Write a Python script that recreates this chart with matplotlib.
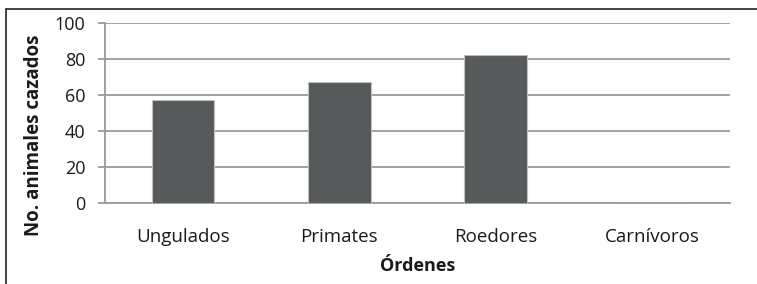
import matplotlib.pyplot as plt
import matplotlib.patches as patches

categorias = ["Ungulados", "Primates", "Roedores", "Carnívoros"]
cazados = [57, 67, 82, 0]

plt.rcParams['font.family'] = ['Open Sans', 'DejaVu Sans']

fig = plt.figure(figsize=(7.57, 2.84), dpi=100)
ax = fig.add_axes([105 / 757, 1 - 203 / 284, 625 / 757, 180 / 284])

x = range(len(categorias))
ax.bar(x, cazados, width=0.4, color="#575a5b", edgecolor="#bfbfbf", linewidth=0.8, zorder=3)

ax.set_xlim(-0.5, len(categorias) - 0.5)
ax.set_ylim(0, 100)
ax.set_yticks(range(0, 101, 20))
ax.set_xticks(list(x))
ax.set_xticklabels(categorias)
ax.grid(axis='y', color="#9a9a9a", linewidth=1.3, zorder=0)

for s in ['top', 'right']:
    ax.spines[s].set_visible(False)
ax.spines['left'].set_color("#9a9a9a")
ax.spines['left'].set_linewidth(1.3)
ax.spines['bottom'].set_color("#9a9a9a")
ax.spines['bottom'].set_linewidth(1.3)
ax.tick_params(axis='y', length=5, width=1.3, color="#9a9a9a", labelsize=13, pad=9, labelcolor="#1a1a1a")
ax.tick_params(axis='x', length=0, labelsize=13.5, pad=18, labelcolor="#1a1a1a")

ax.set_xlabel("Órdenes", fontsize=13, fontweight='bold', labelpad=8, color="#1a1a1a")
ax.set_ylabel("No. animales cazados", fontsize=13.5, fontweight='bold', color="#1a1a1a", va='center')
ax.yaxis.set_label_coords(-0.1136, 0.378)

# marco de la figura (lados derecho e inferior quedan fuera de la imagen)
fig.patches.append(patches.Rectangle((6 / 757, -0.1), 1.0, 1 - 9 / 284 + 0.1,
                                     transform=fig.transFigure, fill=False,
                                     edgecolor="#222222", linewidth=1.2))

fig.savefig("out.png", dpi=100)
plt.close(fig)
